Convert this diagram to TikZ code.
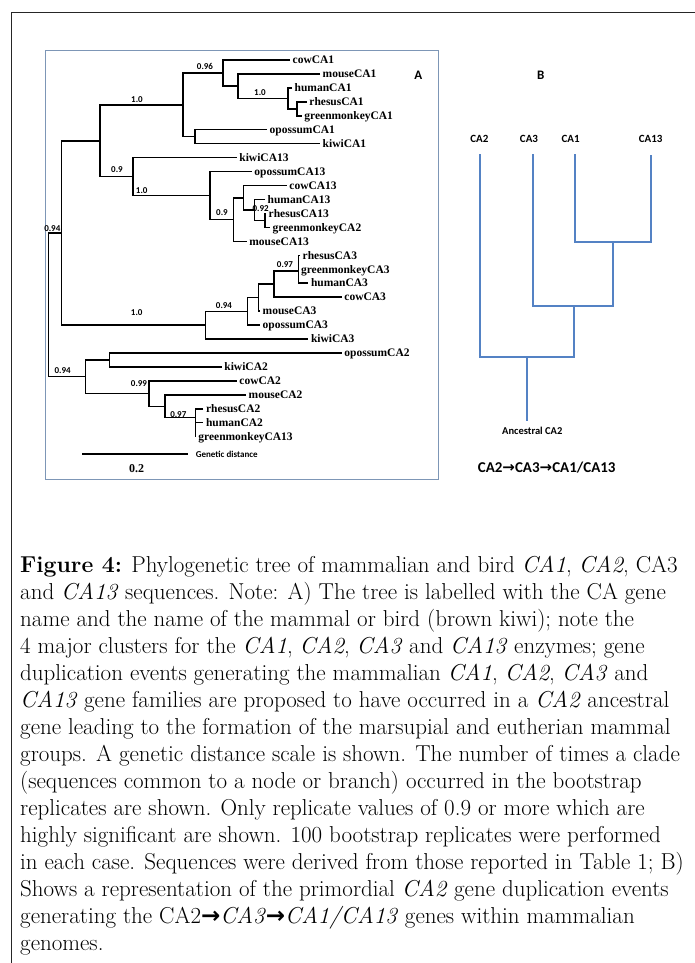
\documentclass[tikz,border=0pt]{standalone}
\usepackage{fontspec}
\newfontfamily\labfont{Carlito}
\newfontfamily\leaffont{Liberation Serif}
\newfontfamily\arrowfont{DejaVu Sans}
\newcommand{\harr}{{\arrowfont\bfseries →}}
\definecolor{treeblue}{RGB}{84,130,196}
\definecolor{framegray}{RGB}{125,150,182}

\begin{document}
\begin{tikzpicture}[x=1pt, y=-1pt,
    branch/.style={line width=1.5pt, line join=miter},
    leaf/.style={anchor=west, inner xsep=2.5pt, inner ysep=0pt, text height=7.5pt, text depth=0pt,
        font=\leaffont\bfseries\fontsize{11.5}{12}\selectfont},
    boot/.style={inner sep=0pt, font=\labfont\bfseries\fontsize{9}{10}\selectfont},
    gene/.style={inner sep=0pt, font=\labfont\bfseries\fontsize{11}{12}\selectfont},
    duplic/.style={line width=2pt, treeblue},
    panel/.style={inner sep=0pt, font=\labfont\bfseries\fontsize{13}{14}\selectfont}]
    \useasboundingbox (0,0) rectangle (695,963);

    % Cornici
    \draw[line width=0.9pt, black!85] (695,12) -- (11,12) -- (11,963);
    \draw[line width=1pt, framegray] (45,51) rectangle (438,479);
    \node[panel] (pA) at (418.3,75) {A};
    \node[panel] (pB) at (540.7,75) {B};

    % Foglie CA1
    \node[leaf] (cowCA1) at (290,60) {cowCA1};
    \node[leaf] (mouseCA1) at (320,73.95) {mouseCA1};
    \node[leaf] (humanCA1) at (292,87.9) {humanCA1};
    \node[leaf] (rhesusCA1) at (306.7,101.85) {rhesusCA1};
    \node[leaf] (greenmonkeyCA1) at (301.7,115.8) {greenmonkeyCA1};
    \node[leaf] (opossumCA1) at (267,129.75) {opossumCA1};
    \node[leaf] (kiwiCA1) at (320,143.7) {kiwiCA1};
    % Foglie CA13
    \node[leaf] (kiwiCA13) at (236.7,157.65) {kiwiCA13};
    \node[leaf] (opossumCA13) at (251.7,171.6) {opossumCA13};
    \node[leaf] (cowCA13) at (286.7,185.55) {cowCA13};
    \node[leaf] (humanCA13) at (265,199.5) {humanCA13};
    \node[leaf] (rhesusCA13) at (266,213.45) {rhesusCA13};
    \node[leaf] (greenmonkeyCA2) at (270,227.4) {greenmonkeyCA2};
    \node[leaf] (mouseCA13) at (246.7,241.35) {mouseCA13};
    % Foglie CA3
    \node[leaf] (rhesusCA3) at (300,255.3) {rhesusCA3};
    \node[leaf] (greenmonkeyCA3) at (298.3,269.25) {greenmonkeyCA3};
    \node[leaf] (humanCA3) at (308.3,283.2) {humanCA3};
    \node[leaf] (cowCA3) at (341.7,297.15) {cowCA3};
    \node[leaf] (mouseCA3) at (260,311.1) {mouseCA3};
    \node[leaf] (opossumCA3) at (260,325.05) {opossumCA3};
    \node[leaf] (kiwiCA3) at (308.3,339) {kiwiCA3};
    % Foglie CA2
    \node[leaf] (opossumCA2) at (341.7,352.95) {opossumCA2};
    \node[leaf] (kiwiCA2) at (221.7,366.9) {kiwiCA2};
    \node[leaf] (cowCA2) at (236.7,380.85) {cowCA2};
    \node[leaf] (mouseCA2) at (246,394.8) {mouseCA2};
    \node[leaf] (rhesusCA2) at (203.3,408.75) {rhesusCA2};
    \node[leaf] (humanCA2) at (203.3,422.7) {humanCA2};
    \node[leaf] (greenmonkeyCA13) at (195.7,436.65) {greenmonkeyCA13};

    % Nodi interni
    \coordinate (a_rg) at (297,108.8);
    \coordinate (a_hu) at (288,98.4);
    \coordinate (a_mo) at (238,86.2);
    \coordinate (a_co) at (223,73.1);
    \coordinate (a_ok) at (195,136.7);
    \coordinate (a_top) at (183,104.9);
    \coordinate (d_rg) at (265,220.4);
    \coordinate (d_hu) at (254.3,210);
    \coordinate (d_co) at (243.3,197.8);
    \coordinate (d_mo) at (233.3,219.6);
    \coordinate (d_op) at (210,195.6);
    \coordinate (d_top) at (133,176.6);
    \coordinate (ad) at (100,140.8);
    \coordinate (c_rgh) at (298.3,271);
    \coordinate (c_co) at (274,284.1);
    \coordinate (c_mo) at (258.3,297.6);
    \coordinate (c_op) at (247.7,311.3);
    \coordinate (c_top) at (205.7,325.2);
    \coordinate (adc) at (61.7,233);
    \coordinate (b_ok) at (109.3,359.9);
    \coordinate (b_rhg) at (195.7,417.7);
    \coordinate (b_mo) at (165,406.3);
    \coordinate (b_co) at (149,393.6);
    \coordinate (b_top) at (85.7,376.7);
    \coordinate (root) at (48.3,304.9);

    % Rami
    \draw[branch] (cowCA1.west) -| (a_co) |- (a_mo);
    \draw[branch] (mouseCA1.west) -| (a_mo) |- (a_hu);
    \draw[branch] (humanCA1.west) -| (a_hu) |- (a_rg);
    \draw[branch] (rhesusCA1.west) -| (a_rg) |- (greenmonkeyCA1.west);
    \draw[branch] (opossumCA1.west) -| (a_ok) |- (kiwiCA1.west);
    \draw[branch] (a_co) -| (a_top) |- (a_ok);
    \draw[branch] (rhesusCA13.west) -| (d_rg) |- (greenmonkeyCA2.west);
    \draw[branch] (humanCA13.west) -| (d_hu) |- (d_rg);
    \draw[branch] (cowCA13.west) -| (d_co) |- (d_hu);
    \draw[branch] (d_co) -| (d_mo) |- (mouseCA13.west);
    \draw[branch] (opossumCA13.west) -| (d_op) |- (d_mo);
    \draw[branch] (kiwiCA13.west) -| (d_top) |- (d_op);
    \draw[branch] (a_top) -| (ad) |- (d_top);
    \draw[branch] (rhesusCA3.west) -| (c_rgh) |- (humanCA3.west);
    \draw[branch] (c_rgh) |- (greenmonkeyCA3.west);
    \draw[branch] (c_rgh) -| (c_co) |- (cowCA3.west);
    \draw[branch] (c_co) -| (c_mo) |- (mouseCA3.west);
    \draw[branch] (c_mo) -| (c_op) |- (opossumCA3.west);
    \draw[branch] (c_op) -| (c_top) |- (kiwiCA3.west);
    \draw[branch] (ad) -| (adc) |- (c_top);
    \draw[branch] (opossumCA2.west) -| (b_ok) |- (kiwiCA2.west);
    \draw[branch] (rhesusCA2.west) -| (b_rhg) |- (greenmonkeyCA13.west);
    \draw[branch] (b_rhg) |- (humanCA2.west);
    \draw[branch] (mouseCA2.west) -| (b_mo) |- (b_rhg);
    \draw[branch] (cowCA2.west) -| (b_co) |- (b_mo);
    \draw[branch] (b_ok) -| (b_top) |- (b_co);
    \draw[branch] (adc) -| (root) |- (b_top);

    % Valori bootstrap
    \node[boot] (v096) at (205,66) {0.96};
    \node[boot] (v10a) at (260,93) {1.0};
    \node[boot] (v10b) at (137,100) {1.0};
    \node[boot] (v09a) at (117,170) {0.9};
    \node[boot] (v10c) at (141.7,190.7) {1.0};
    \node[boot] (v09b) at (222,212.7) {0.9};
    \node[boot] (v092) at (260.7,208.3) {0.92};
    \node[boot] (v094a) at (52.3,229) {0.94};
    \node[boot] (v097a) at (285,265) {0.97};
    \node[boot] (v094b) at (224,305.7) {0.94};
    \node[boot] (v10d) at (136.7,312.7) {1.0};
    \node[boot] (v094c) at (62.7,371) {0.94};
    \node[boot] (v099) at (139,384) {0.99};
    \node[boot] (v097b) at (178.3,414.3) {0.97};

    % Scala
    \coordinate (sc1) at (82.3,454);
    \coordinate (sc2) at (188.3,454);
    \draw[branch] (sc1) -- (sc2);
    \node[boot, anchor=west] (gd) at (195.7,454) {Genetic distance};
    \node[inner sep=0pt, font=\leaffont\bfseries\fontsize{12}{13}\selectfont] (sc) at (136.7,469) {0.2};

    % Duplicazioni (pannello B)
    \node[gene] (g2) at (479.3,139) {CA2};
    \node[gene] (g3) at (529,139) {CA3};
    \node[gene] (g1) at (570.7,139) {CA1};
    \node[gene] (g13) at (650.7,139) {CA13};
    \coordinate (t2) at (480,154);
    \coordinate (t3) at (533,154);
    \coordinate (t1) at (575,154);
    \coordinate (t13) at (651,155);
    \coordinate (j113) at (613,242);
    \coordinate (j3) at (574,306);
    \coordinate (j2) at (527,357);
    \coordinate (anc) at (527,421);
    \draw[duplic] (t1) |- (j113) -| (t13);
    \draw[duplic] (t3) |- (j3) -| (j113);
    \draw[duplic] (t2) |- (j2) -| (j3);
    \draw[duplic] (j2) -- (anc);
    \node[gene, font=\labfont\bfseries\fontsize{10.5}{12}\selectfont] (ancl) at (532.3,430.7) {Ancestral CA2};
    \node[gene, font=\labfont\bfseries\fontsize{15}{16}\selectfont] (order) at (546.7,467.3) {CA2\harr CA3\harr CA1/CA13};

    % Didascalia
    \node[anchor=north west, inner sep=0pt, align=left, font=\fontsize{23}{27}\selectfont] (caption) at (20,556) {%
        \textbf{Figure 4:} Phylogenetic tree of mammalian and bird \textit{CA1}, \textit{CA2}, CA3\\
        and \textit{CA13} sequences. Note: A) The tree is labelled with the CA gene\\
        name and the name of the mammal or bird (brown kiwi); note the\\
        4 major clusters for the \textit{CA1}, \textit{CA2}, \textit{CA3} and \textit{CA13} enzymes; gene\\
        duplication events generating the mammalian \textit{CA1}, \textit{CA2}, \textit{CA3} and\\
        \textit{CA13} gene families are proposed to have occurred in a \textit{CA2} ancestral\\
        gene leading to the formation of the marsupial and eutherian mammal\\
        groups. A genetic distance scale is shown. The number of times a clade\\
        (sequences common to a node or branch) occurred in the bootstrap\\
        replicates are shown. Only replicate values of 0.9 or more which are\\
        highly significant are shown. 100 bootstrap replicates were performed\\
        in each case. Sequences were derived from those reported in Table 1; B)\\
        Shows a representation of the primordial \textit{CA2} gene duplication events\\
        generating the CA2\harr\textit{CA3}\harr\textit{CA1/CA13} genes within mammalian\\
        genomes.};
\end{tikzpicture}
\end{document}
